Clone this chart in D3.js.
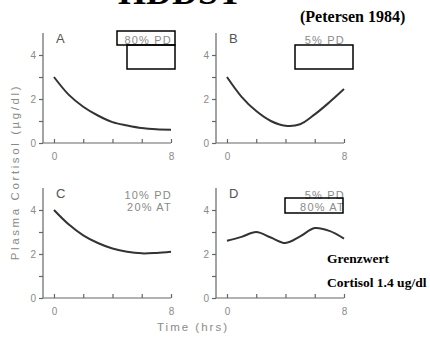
<!DOCTYPE html>
<html>
<head>
<meta charset="utf-8">
<script src="https://cdn.jsdelivr.net/npm/d3@7"></script>
<style>
  body { margin: 0; background: #fff; }
  svg { display: block; }
</style>
</head>
<body>
<div id="chart"></div>
<script>
// hours after dexamethasone
const hours = [0, 1, 2, 3, 4, 5, 6, 7, 8];

// plasma cortisol (ug/dl) per panel
const cortisolA = [3.0, 2.2, 1.65, 1.25, 0.95, 0.8, 0.68, 0.62, 0.6];
const cortisolB = [3.0, 2.1, 1.45, 1.0, 0.78, 0.85, 1.3, 1.85, 2.45];
const cortisolC = [4.0, 3.35, 2.85, 2.5, 2.25, 2.1, 2.03, 2.05, 2.1];
const cortisolD = [2.6, 2.78, 3.0, 2.75, 2.5, 2.8, 3.18, 3.05, 2.7];

const panelLetters = ['A', 'B', 'C', 'D'];
const panelNotes = [['80% PD'], ['5% PD'], ['10% PD', '20% AT'], ['5% PD', '80% AT']];

const yTicks = [0, 1, 2, 3, 4];
const xTicks = [0, 2, 4, 6, 8];

const width = 430, height = 337;
const svg = d3.select('#chart').append('svg')
  .attr('width', width)
  .attr('height', height);

const grey = '#8a8a8a';
const sans = "'Liberation Sans', Arial, sans-serif";
const serif = "'Liberation Serif', 'Times New Roman', serif";

// left edge of y axis and bottom of each panel
const panels = [
  { left: 43, bottom: 143, data: cortisolA },
  { left: 216, bottom: 143, data: cortisolB },
  { left: 43, bottom: 298, data: cortisolC },
  { left: 216, bottom: 298, data: cortisolD },
];
const plotW = 128, plotH = 110;

panels.forEach((p, i) => {
  const g = svg.append('g').attr('transform', `translate(${p.left},${p.bottom - plotH})`);

  const x = d3.scaleLinear().domain([-0.75, 8]).range([0, plotW]);
  const y = d3.scaleLinear().domain([0, 5]).range([plotH, 0]);

  // y axis
  const ya = g.append('g')
    .call(d3.axisLeft(y).tickValues(yTicks).tickSize(4).tickSizeOuter(0)
      .tickFormat((d) => (d % 2 === 0 ? d : '')));
  ya.select('.domain').attr('d', `M0,${plotH}V0`);

  // x axis (ticks inside)
  const xa = g.append('g')
    .attr('transform', `translate(0,${plotH})`)
    .call(d3.axisBottom(x).tickValues(xTicks).tickSize(-4).tickSizeOuter(0)
      .tickFormat((d) => (d === 0 || d === 8 ? d : '')));
  xa.select('.domain').attr('d', `M0,0H${x(8)}`);
  xa.selectAll('text').attr('dy', '1.4em');

  g.selectAll('.domain, .tick line').attr('stroke', '#666').attr('stroke-width', 1.2);
  g.selectAll('.tick text')
    .attr('fill', grey)
    .style('font-family', sans)
    .style('font-size', '10px');

  // curve
  const line = d3.line()
    .x((d, j) => x(hours[j]))
    .y((d) => y(d))
    .curve(d3.curveCatmullRom.alpha(0.5));
  g.append('path')
    .datum(p.data)
    .attr('d', line)
    .attr('fill', 'none')
    .attr('stroke', '#333')
    .attr('stroke-width', 2);

  // panel letter
  g.append('text')
    .attr('x', x(0) + 2)
    .attr('y', 10)
    .attr('fill', '#555')
    .style('font-family', sans)
    .style('font-size', '13px')
    .text(panelLetters[i]);

  // condition notes, right aligned at x = 8
  panelNotes[i].forEach((t, k) => {
    g.append('text')
      .attr('x', x(8) + 1)
      .attr('y', 11 + k * 12)
      .attr('text-anchor', 'end')
      .attr('fill', grey)
      .style('font-family', sans)
      .style('font-size', '11px')
      .style('letter-spacing', '1.2px')
      .text(t);
  });
});

// overlay boxes from the slide
const boxes = [
  [117, 31, 58, 14],
  [127, 45, 48, 24],
  [295, 45, 58, 24],
  [285, 198, 58, 15],
];
svg.selectAll('.box')
  .data(boxes)
  .enter()
  .append('rect')
  .attr('x', (d) => d[0])
  .attr('y', (d) => d[1])
  .attr('width', (d) => d[2])
  .attr('height', (d) => d[3])
  .attr('fill', 'none')
  .attr('stroke', '#000')
  .attr('stroke-width', 1.5);

// axis titles
svg.append('text')
  .attr('transform', 'translate(19,172) rotate(-90)')
  .attr('text-anchor', 'middle')
  .attr('fill', grey)
  .style('font-family', sans)
  .style('font-size', '11.5px')
  .style('letter-spacing', '2.6px')
  .text('Plasma Cortisol (µg/dl)');

svg.append('text')
  .attr('x', 193)
  .attr('y', 331)
  .attr('text-anchor', 'middle')
  .attr('fill', grey)
  .style('font-family', sans)
  .style('font-size', '11.5px')
  .style('letter-spacing', '2px')
  .text('Time (hrs)');

// slide annotations
svg.append('text')
  .attr('x', 180)
  .attr('y', 4)
  .attr('text-anchor', 'middle')
  .style('font-family', serif)
  .style('font-weight', 'bold')
  .style('font-size', '36px')
  .text('HDDST');

svg.append('text')
  .attr('x', 300)
  .attr('y', 22)
  .style('font-family', serif)
  .style('font-weight', 'bold')
  .style('font-size', '16px')
  .text('(Petersen 1984)');

svg.append('text')
  .attr('x', 327)
  .attr('y', 263)
  .style('font-family', serif)
  .style('font-weight', 'bold')
  .style('font-size', '13.5px')
  .text('Grenzwert');

svg.append('text')
  .attr('x', 327)
  .attr('y', 287)
  .style('font-family', serif)
  .style('font-weight', 'bold')
  .style('font-size', '13.5px')
  .text('Cortisol 1.4 ug/dl');
</script>
</body>
</html>
